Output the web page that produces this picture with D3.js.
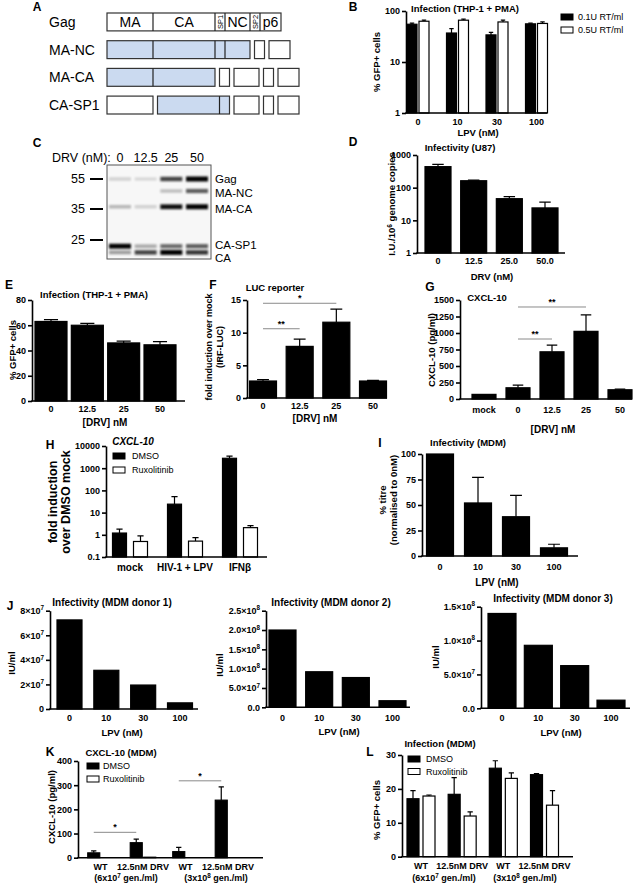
<!DOCTYPE html>
<html lang="en">
<head>
<meta charset="utf-8" />
<title>Gag processing and infectivity</title>
<script src="https://cdn.jsdelivr.net/npm/d3@7"></script>
<style>
  html, body { margin: 0; background: #fff; }
  svg { display: block; }
</style>
</head>
<body>
<script>
// ---- data ----

// A: Gag domains and the partially processed products
const gagDomains = ["MA", "CA", "SP1", "NC", "SP2", "p6"];
const gagWidths = [46, 62, 10, 25, 10, 21];          // schematic widths, not to scale
const gagProducts = ["Gag", "MA-NC", "MA-CA", "CA-SP1"];
const productPieces = [
  [[0, 1, 2, 3, 4, 5]],
  [[0, 1, 2, 3], [4], [5]],
  [[0, 1], [2], [3], [4], [5]],
  [[0], [1, 2], [3], [4], [5]]
];
const productShaded = [-1, 0, 0, 1];

// B: infection of THP-1 with LPV
const lpvDoses = ["0", "10", "30", "100"];
const bLowRT = [55, 37, 34, 56], bLowErr = [3, 8, 4, 2];
const bHighRT = [63, 66, 61, 57], bHighErr = [3, 3, 5, 4];
const bTicks = [1, 10, 100];

// C: western blot
const drvLanes = ["0", "12.5", "25", "50"];
const markerKDa = [55, 35, 25];
const bandNames = ["Gag", "MA-NC", "MA-CA", "CA-SP1", "CA"];
const bandKDa = [55, 47, 36.5, 23, 21];
const bandLevels = [
  [0.15, 0.12, 0.7, 1.0],
  [0, 0, 0.22, 0.6],
  [0.25, 0.15, 0.9, 1.0],
  [0.95, 0.3, 0.55, 0.6],
  [0.35, 0.7, 1.0, 0.75]
];

// D: infectivity U87
const drvDosesD = ["0", "12.5", "25.0", "50.0"];
const dInfect = [440, 163, 46, 24], dErr = [80, 6, 7, 12];
const dTicks = [1, 10, 100, 1000];

// E, F, G
const drvDoses = ["0", "12.5", "25", "50"];
const eGfp = [63, 60, 46, 44.5], eErr = [1.5, 1.5, 1.5, 2.5];
const eTicks = [0, 20, 40, 60, 80];
const fLuc = [2.6, 7.9, 11.6, 2.6], fErr = [0.2, 1.1, 2.0, 0.1];
const fTicks = [0, 5, 10, 15];
const gCats = ["mock", "0", "12.5", "25", "50"];
const gCxcl = [70, 170, 715, 1025, 140], gErr = [0, 40, 100, 250, 10];
const gTicks = [0, 250, 500, 750, 1000, 1250, 1500];

// H: CXCL-10 with ruxolitinib
const hCats = ["mock", "HIV-1 + LPV", "IFNβ"];
const hDmso = [1.2, 24, 2800], hDmsoErr = [0.6, 28, 700];
const hRux = [0.5, 0.52, 2.1], hRuxErr = [0.4, 0.22, 0.5];
const hTicks = [0.1, 1, 10, 100, 1000, 10000];

// I: MDM infectivity
const iTitre = [100, 52, 38.5, 8], iErr = [0, 25, 21, 3.5];
const iTicks = [0, 25, 50, 75, 100];

// J: per donor
const j1 = [7.25e7, 3.15e7, 1.95e7, 0.5e7];
const j2 = [2.0e8, 0.92e8, 0.77e8, 0.17e8];
const j3 = [1.4e8, 0.93e8, 0.63e8, 0.12e8];
const j1Ticks = [0, 2e7, 4e7, 6e7, 8e7];
const j1Labels = ["0", "2×10^7", "4×10^7", "6×10^7", "8×10^7"];
const j2Ticks = [0, 5e7, 1e8, 1.5e8, 2e8, 2.5e8];
const j2Labels = ["0.0", "5.0×10^7", "1.0×10^8", "1.5×10^8", "2.0×10^8", "2.5×10^8"];
const j3Ticks = [0, 5e7, 1e8, 1.5e8];
const j3Labels = ["0.0", "5.0×10^7", "1.0×10^8", "1.5×10^8"];

// K, L: MDM
const mdmCats = ["WT", "12.5nM DRV", "WT ", "12.5nM DRV "];
const kDmso = [20, 62, 25, 238], kDmsoErr = [8, 15, 18, 55];
const kRux = [0, 2, 0, 0];
const kTicks = [0, 100, 200, 300, 400];
const lDmso = [17.1, 18.4, 26.1, 24.2], lDmsoErr = [2.4, 4.9, 2.2, 0.3];
const lRux = [17.9, 12.0, 23.1, 15.2], lRuxErr = [0.3, 1.2, 1.6, 4.3];
const lTicks = [0, 10, 20, 30];

// ---- drawing ----
const FONT = '"Liberation Sans", Arial, Helvetica, sans-serif';
const svg = d3.select("body").append("svg")
  .attr("width", 639).attr("height", 886)
  .attr("font-family", FONT);
svg.append("rect").attr("width", 639).attr("height", 886).attr("fill", "#fff");

// text with ^superscripts
function rich(t, s, size) {
  const parts = String(s).split(/\^(\w+)/);
  t.text(null);
  parts.forEach((p, i) => {
    if (i % 2) {
      t.append("tspan").attr("dy", -size * 0.4).attr("font-size", size * 0.7).text(p);
    } else if (p !== "") {
      const sp = t.append("tspan").text(p);
      if (i > 0) sp.attr("dy", size * 0.4);
    }
  });
}

function label(x, y, s, o = {}) {
  const size = o.size || 9.5;
  const t = svg.append("text").attr("x", x).attr("y", y)
    .attr("font-size", size).attr("font-weight", o.weight || "bold")
    .attr("text-anchor", o.anchor || "middle").attr("dy", "0.35em");
  if (o.rot) t.attr("transform", `rotate(-90,${x},${y})`);
  if (o.italic) t.attr("font-style", "italic");
  rich(t, s, size);
  return t;
}

function barPanel(o) {
  const g = svg.append("g");
  const y = (o.log ? d3.scaleLog() : d3.scaleLinear()).domain(o.domain).range([o.b, o.t]);
  const x = d3.scalePoint().domain(o.cats).range(o.xr);
  const n = o.series.length, gap = o.gap || 0;
  const off = si => (si - (n - 1) / 2) * (o.bw + gap);
  const cap = o.cap || o.bw * 0.22;
  o.series.forEach((s, si) => {
    s.vals.forEach((v, i) => {
      const cx = x(o.cats[i]) + off(si);
      const e = s.errs ? s.errs[i] : 0;
      if (e > 0) {
        const yt = y(v + e);
        g.append("path").attr("d", `M${cx},${y(v)}V${yt}M${cx - cap},${yt}H${cx + cap}`)
          .attr("stroke", "#000").attr("stroke-width", 1.2).attr("fill", "none");
      }
      if (v > 0) {
        g.append("rect").attr("x", cx - o.bw / 2).attr("y", y(v))
          .attr("width", o.bw).attr("height", o.b - y(v))
          .attr("fill", s.fill).attr("stroke", "#000").attr("stroke-width", 1.2);
      }
    });
  });
  const ts = o.tickSize || 9;
  const ax = d3.axisLeft(y).tickValues(o.ticks).tickSize(4).tickSizeOuter(0).tickPadding(2);
  const ga = g.append("g").attr("transform", `translate(${o.l},0)`).call(ax)
    .attr("font-family", FONT).attr("font-size", ts).attr("font-weight", "bold");
  ga.selectAll(".tick text").each(function (d, i) {
    rich(d3.select(this), o.tickLabels ? o.tickLabels[i] : d, ts);
  });
  ga.selectAll("path, line").attr("stroke-width", 1.6);
  g.append("line").attr("x1", o.l - 0.8).attr("x2", o.r).attr("y1", o.b).attr("y2", o.b)
    .attr("stroke", "#000").attr("stroke-width", 1.6);
  o.cats.forEach(c => label(x(c), o.xly, c.trim(), { size: o.catSize || 9 }));
  return { x, y, off };
}

function bracket(p, a, b, v, s, shift = 0) {
  const x1 = p.x(a) + shift, x2 = p.x(b) + shift, yy = p.y(v);
  svg.append("line").attr("x1", x1).attr("x2", x2).attr("y1", yy).attr("y2", yy)
    .attr("stroke", "#8a8a8a").attr("stroke-width", 1);
  label((x1 + x2) / 2, yy - 5, s, { size: 9 });
}

function legend(x, y, items, step, tx) {
  items.forEach((it, i) => {
    svg.append("rect").attr("x", x).attr("y", y + i * step - 3).attr("width", 12).attr("height", 6)
      .attr("fill", it[1]).attr("stroke", "#000").attr("stroke-width", 1);
    label(x + tx, y + i * step, it[0], { anchor: "start", weight: "normal", size: 9 });
  });
}

// panel letters
[["A", 37, 7], ["B", 353, 7], ["C", 37, 143], ["D", 353, 142], ["E", 9, 285], ["F", 213, 285],
 ["G", 430, 287], ["H", 50, 445], ["I", 380, 443], ["J", 10, 606], ["K", 50, 752], ["L", 370, 752]]
  .forEach(([s, x, y]) => label(x, y, s, { size: 12 }));

// ---- A ----
const aX = d3.scaleLinear().domain([0, 200]).range([107, 307]);
const aY = d3.scaleBand().domain(gagProducts).range([13, 114]).paddingInner(0.354);
gagProducts.forEach((p, r) => {
  const y0 = aY(p), h = aY.bandwidth();
  label(49, y0 + h / 2, p, { anchor: "start", weight: "normal", size: 14 });
  let pos = 0;
  productPieces[r].forEach((piece, k) => {
    const w = d3.sum(piece, d => gagWidths[d]);
    svg.append("rect").attr("x", aX(pos)).attr("y", y0)
      .attr("width", aX(pos + w) - aX(pos)).attr("height", h)
      .attr("fill", k === productShaded[r] ? "#cbdaf0" : "#fff")
      .attr("stroke", "#333").attr("stroke-width", 1.2);
    let inner = pos;
    piece.forEach((d, j) => {
      if (j > 0) {
        svg.append("line").attr("x1", aX(inner)).attr("x2", aX(inner))
          .attr("y1", y0).attr("y2", y0 + h).attr("stroke", "#222").attr("stroke-width", 1.2);
      }
      if (r === 0) {
        const cx = (aX(inner) + aX(inner + gagWidths[d])) / 2;
        if (gagWidths[d] > 12) label(cx, y0 + h / 2, gagDomains[d], { weight: "normal", size: 14 });
        else label(cx, y0 + h / 2, gagDomains[d], { weight: "normal", size: 7.5, rot: true });
      }
      inner += gagWidths[d];
    });
    pos += w + 4.5;
  });
});

// ---- B ----
barPanel({
  l: 406, r: 547, t: 11, b: 113, log: true, domain: [1, 100], ticks: bTicks,
  cats: lpvDoses, xr: [418, 536.5], bw: 10, gap: 2, xly: 122,
  series: [{ vals: bLowRT, errs: bLowErr, fill: "#000" }, { vals: bHighRT, errs: bHighErr, fill: "#fff" }]
});
label(465, 9, "Infection (THP-1 + PMA)");
label(377, 62, "% GFP+ cells", { rot: true });
label(478, 133, "LPV (nM)");
legend(561, 17, [["0.1U RT/ml", "#000"], ["0.5U RT/ml", "#fff"]], 13, 17);

// ---- C ----
const defs = svg.append("defs");
defs.append("filter").attr("id", "blur").attr("x", "-30%").attr("y", "-200%")
  .attr("width", "160%").attr("height", "500%")
  .append("feGaussianBlur").attr("stdDeviation", "1.3 1");
const cKDa = d3.scaleLinear().domain([55, 35, 25]).range([179, 209, 240]);
const cLane = d3.scalePoint().domain(drvLanes).range([120, 197]);
svg.append("rect").attr("x", 107).attr("y", 165).attr("width", 104).attr("height", 94)
  .attr("fill", "#f7f7f7").attr("stroke", "#555").attr("stroke-width", 1);
bandKDa.forEach((kd, bi) => {
  drvLanes.forEach((ln, li) => {
    const lv = bandLevels[bi][li];
    if (lv <= 0) return;
    svg.append("rect").attr("x", cLane(ln) - 11).attr("y", cKDa(kd) - 1.5 - lv)
      .attr("width", 22).attr("height", 3 + 2 * lv)
      .attr("fill", "#000").attr("opacity", Math.min(1, lv * 1.05)).attr("filter", "url(#blur)");
  });
  label(215, cKDa(kd) + [0, 1.5, 2, -1.5, 6][bi], bandNames[bi], { anchor: "start", weight: "normal", size: 11.5 });
});
markerKDa.forEach(m => {
  svg.append("line").attr("x1", 90).attr("x2", 103).attr("y1", cKDa(m)).attr("y2", cKDa(m))
    .attr("stroke", "#000").attr("stroke-width", 2);
  label(85, cKDa(m), m, { anchor: "end", weight: "normal", size: 12.5 });
});
label(52, 158, "DRV (nM):", { anchor: "start", weight: "normal", size: 12.5 });
drvLanes.forEach(ln => label(cLane(ln), 158, ln, { weight: "normal", size: 12.5 }));

// ---- D ----
barPanel({
  l: 417, r: 565, t: 155, b: 253, log: true, domain: [1, 1000], ticks: dTicks,
  cats: drvDosesD, xr: [438, 545], bw: 26, xly: 261,
  series: [{ vals: dInfect, errs: dErr, fill: "#000" }]
});
label(460, 148, "Infectivity (U87)");
label(392, 204, "I.U./10^6 genome copies", { rot: true });
label(492, 277, "DRV (nM)");

// ---- E ----
barPanel({
  l: 32, r: 185, t: 300, b: 401, domain: [0, 80], ticks: eTicks,
  cats: drvDoses, xr: [51, 160], bw: 32, xly: 409,
  series: [{ vals: eGfp, errs: eErr, fill: "#000" }]
});
label(94, 295, "Infection (THP-1 + PMA)");
label(13, 350, "% GFP+ cells", { rot: true });
label(105, 422, "[DRV] nM", { size: 10 });

// ---- F ----
const pF = barPanel({
  l: 247, r: 387, t: 300, b: 398, domain: [0, 15], ticks: fTicks,
  cats: drvDoses, xr: [263, 373], bw: 27, xly: 406,
  series: [{ vals: fLuc, errs: fErr, fill: "#000" }]
});
bracket(pF, "0", "25", 14.5, "*");
bracket(pF, "0", "12.5", 10.6, "**");
label(275, 288, "LUC reporter");
label(209, 347, "fold induction over mock", { rot: true, size: 9 });
label(220, 347, "(IRF-LUC)", { rot: true, size: 9 });
label(315, 418, "[DRV] nM", { size: 10 });

// ---- G ----
const pG = barPanel({
  l: 460, r: 632, t: 300, b: 399, domain: [0, 1500], ticks: gTicks,
  cats: gCats, xr: [484, 620], bw: 24, xly: 410,
  series: [{ vals: gCxcl, errs: gErr, fill: "#000" }]
});
bracket(pG, "0", "25", 1394, "**");
bracket(pG, "0", "12.5", 909, "**");
label(487, 298, "CXCL-10");
label(432, 350, "CXCL-10 (pg/ml)", { rot: true });
label(553, 429, "[DRV] nM", { size: 10 });

// ---- H ----
barPanel({
  l: 106, r: 267, t: 446, b: 557, log: true, domain: [0.1, 10000], ticks: hTicks,
  cats: hCats, xr: [130, 240], bw: 14, gap: 7, xly: 567, catSize: 10,
  series: [{ vals: hDmso, errs: hDmsoErr, fill: "#000" }, { vals: hRux, errs: hRuxErr, fill: "#fff" }]
});
label(133, 441, "CXCL-10", { italic: true, size: 10 });
label(53, 502, "fold induction", { rot: true, size: 12.5 });
label(66, 502, "over DMSO mock", { rot: true, size: 12.5 });
legend(113, 456, [["DMSO", "#000"], ["Ruxolitinib", "#fff"]], 14, 19);

// ---- I ----
barPanel({
  l: 422, r: 578, t: 454, b: 556, domain: [0, 100], ticks: iTicks,
  cats: lpvDoses, xr: [440, 554], bw: 27, xly: 567,
  series: [{ vals: iTitre, errs: iErr, fill: "#000" }]
});
label(468, 443, "Infectivity (MDM)");
label(383, 500, "% titre", { rot: true });
label(394, 500, "(normalised to 0nM)", { rot: true });
label(497, 582, "LPV (nM)", { size: 10 });

// ---- J ----
[
  { vals: j1, ticks: j1Ticks, labs: j1Labels, l: 50, r: 198, t: 610.7, b: 709, max: 8e7, xr: [69.5, 180], bw: 25,
    title: [112, 602, "Infectivity (MDM donor 1)"], yl: [12, 663], xl: [122, 733] },
  { vals: j2, ticks: j2Ticks, labs: j2Labels, l: 266, r: 410, t: 610.7, b: 707.3, max: 2.5e8, xr: [282.5, 392.5], bw: 27,
    title: [331, 602, "Infectivity (MDM donor 2)"], yl: [220, 665], xl: [339, 732] },
  { vals: j3, ticks: j3Ticks, labs: j3Labels, l: 481, r: 630, t: 606.7, b: 708.3, max: 1.5e8, xr: [502, 611], bw: 28,
    title: [553, 598, "Infectivity (MDM donor 3)"], yl: [436, 657], xl: [561, 733] }
].forEach(d => {
  barPanel({
    l: d.l, r: d.r, t: d.t, b: d.b, domain: [0, d.max], ticks: d.ticks, tickLabels: d.labs, tickSize: 9,
    cats: lpvDoses, xr: d.xr, bw: d.bw, xly: 718,
    series: [{ vals: d.vals, fill: "#000" }]
  });
  label(d.title[0], d.title[1], d.title[2], { size: 10 });
  label(d.yl[0], d.yl[1], "IU/ml", { rot: true });
  label(d.xl[0], d.xl[1], "LPV (nM)");
});

// ---- K ----
const pK = barPanel({
  l: 78, r: 263, t: 761, b: 857.7, domain: [0, 400], ticks: kTicks,
  cats: mdmCats, xr: [100.5, 228], bw: 12, gap: 1.5, xly: 867,
  series: [{ vals: kDmso, errs: kDmsoErr, fill: "#000" }, { vals: kRux, fill: "#fff" }]
});
bracket(pK, mdmCats[0], mdmCats[1], 105, "*", pK.off(0));
bracket(pK, mdmCats[2], mdmCats[3], 318, "*", pK.off(0));
label(121, 753, "CXCL-10 (MDM)");
label(52, 807, "CXCL-10 (pg/ml)", { rot: true });
label(126, 878, "(6x10^7 gen./ml)", { size: 9 });
label(216, 878, "(3x10^8 gen./ml)", { size: 9 });
legend(87, 766, [["DMSO", "#000"], ["Ruxolitinib", "#fff"]], 13, 16);

// ---- L ----
barPanel({
  l: 402, r: 573, t: 755, b: 856.7, domain: [0, 30], ticks: lTicks,
  cats: mdmCats, xr: [421, 544.5], bw: 12, gap: 4, xly: 866,
  series: [{ vals: lDmso, errs: lDmsoErr, fill: "#000" }, { vals: lRux, errs: lRuxErr, fill: "#fff" }]
});
label(440, 744, "Infection (MDM)");
label(377, 810, "% GFP+ cells", { rot: true });
label(444, 878, "(6x10^7 gen./ml)", { size: 9 });
label(525, 878, "(3x10^8 gen./ml)", { size: 9 });
legend(408, 759, [["DMSO", "#000"], ["Ruxolitinib", "#fff"]], 12.5, 18);
</script>
</body>
</html>
